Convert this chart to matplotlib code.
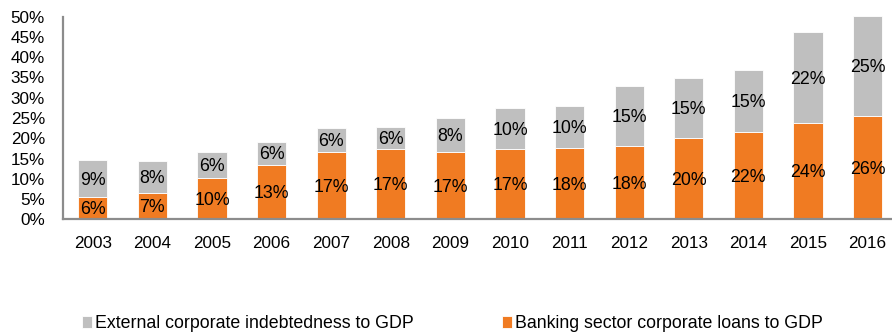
import numpy as np
import matplotlib
matplotlib.use("Agg")
import matplotlib.pyplot as plt
from matplotlib.ticker import FuncFormatter

plt.rcParams['font.family'] = ['Liberation Sans', 'DejaVu Sans']

years = ['2003', '2004', '2005', '2006', '2007', '2008', '2009',
         '2010', '2011', '2012', '2013', '2014', '2015', '2016']
# banking sector corporate loans to GDP (%)
bank_loans = [5.6, 6.6, 10.3, 13.4, 16.7, 17.3, 16.6,
              17.3, 17.7, 18.1, 20.1, 21.6, 23.8, 25.6]
# external corporate indebtedness to GDP (%)
external_debt = [9.0, 7.9, 6.4, 5.8, 5.9, 5.6, 8.4,
                 10.3, 10.3, 14.8, 14.7, 15.2, 22.4, 24.6]

grey = '#BFBFBF'
orange = '#F07B22'
axis_col = '#8C8C8C'

fig = plt.figure(figsize=(8.92, 3.33), dpi=100)
ax = fig.add_axes([0.0706, 0.341, 0.9294, 0.609])

x = np.arange(len(years))
w = 0.49
b1 = ax.bar(x, bank_loans, w, color=orange, edgecolor='white', linewidth=0.6,
            label='Banking sector corporate loans to GDP', clip_on=False)
b2 = ax.bar(x, external_debt, w, bottom=bank_loans, color=grey, edgecolor='white',
            linewidth=0.6, label='External corporate indebtedness to GDP', clip_on=False)

for i in range(len(years)):
    ax.text(x[i], bank_loans[i] / 2 - 0.4, f'{round(bank_loans[i]):.0f}%',
            ha='center', va='center', fontsize=12.8, color='black')
    ax.text(x[i], bank_loans[i] + external_debt[i] / 2 - 0.4, f'{round(external_debt[i]):.0f}%',
            ha='center', va='center', fontsize=12.8, color='black')

ax.set_ylim(0, 50)
ax.set_xlim(-0.5, 13.41)
ax.set_yticks(np.arange(0, 51, 5))
ax.yaxis.set_major_formatter(FuncFormatter(lambda v, p: f'{v:.0f}%'))
ax.set_xticks(x)
ax.set_xticklabels(years)
ax.tick_params(axis='both', length=0, labelsize=12.3)
ax.tick_params(axis='y', pad=13)
ax.tick_params(axis='x', pad=12)

for s in ['top', 'right']:
    ax.spines[s].set_visible(False)
for s in ['left', 'bottom']:
    ax.spines[s].set_color(axis_col)
    ax.spines[s].set_linewidth(1.6)

leg = fig.legend(handles=[b2, b1], loc='center', bbox_to_anchor=(0.507, 0.028),
                 ncol=2, frameon=False, fontsize=12.8, handlelength=0.6,
                 handleheight=0.6, handletextpad=0.15, columnspacing=4.95,
                 borderaxespad=0)

fig.savefig('out.png', dpi=100)
